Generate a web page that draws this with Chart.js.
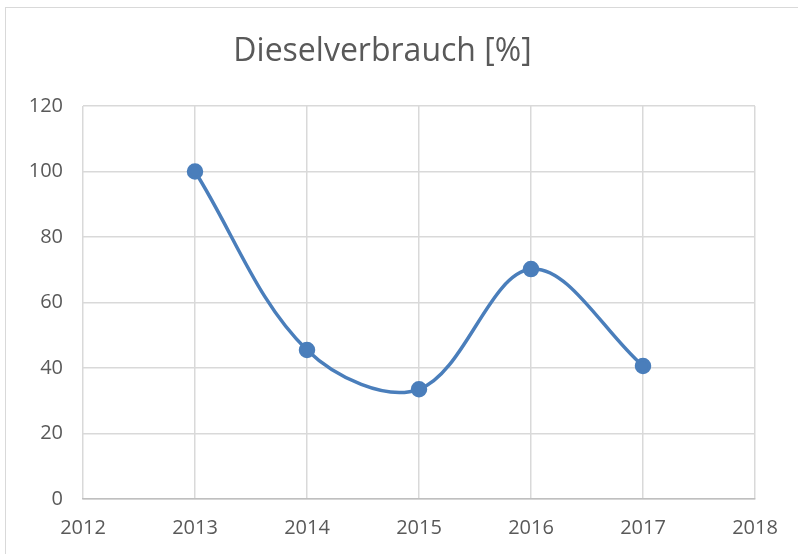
<!DOCTYPE html>
<html>
<head>
<meta charset="utf-8">
<script src="https://cdn.jsdelivr.net/npm/chart.js@4/dist/chart.umd.min.js"></script>
<style>
  html, body { margin: 0; padding: 0; background: #fff; }
  #frame { position: absolute; left: 5px; top: 7px; width: 800px; height: 560px; border: 1px solid #d9d9d9; }
  #wrap { position: absolute; left: 0; top: 0; width: 798px; height: 554px; }
</style>
</head>
<body>
<div id="frame"></div>
<div id="wrap"><canvas id="chart1"></canvas></div>
<script>
const title = 'Dieselverbrauch [%]'
const years = [2013, 2014, 2015, 2016, 2017]
const diesel = [100, 45.5, 33.5, 70.2, 40.6]
const xTicks = [2012, 2013, 2014, 2015, 2016, 2017, 2018]
const yTicks = [0, 20, 40, 60, 80, 100, 120]

const textColor = '#595959'
const gridColor = '#d9d9d9'
const lineColor = '#4a7ebb'

const points = years.map((y, i) => ({x: y, y: diesel[i]}))

var ctx = document.getElementById('chart1').getContext('2d');
new Chart(ctx, {
    type: 'line',
    data: {
        datasets: [{
            label: title,
            data: points,
            borderColor: lineColor,
            backgroundColor: lineColor,
            borderWidth: 3.5,
            pointRadius: 6.5,
            pointHoverRadius: 6.5,
            tension: 0.35,
            fill: false
        }]
    },
    options: {
        responsive: true,
        maintainAspectRatio: false,
        animation: false,
        layout: {padding: {left: 10, right: 43, top: 33, bottom: 10}},
        plugins: {
            legend: {display: false},
            tooltip: {enabled: false},
            title: {
                display: true,
                text: title,
                color: textColor,
                font: {family: 'Open Sans', size: 32, weight: 'normal'},
                padding: {top: 0, bottom: 34.6}
            }
        },
        scales: {
            x: {
                type: 'linear',
                min: xTicks[0],
                max: xTicks[xTicks.length - 1],
                afterBuildTicks: (axis) => { axis.ticks = xTicks.map(v => ({value: v})) },
                afterFit: (axis) => { axis.height = 45 },
                ticks: {
                    color: textColor,
                    font: {family: 'Open Sans', size: 20},
                    padding: 17,
                    callback: (v) => String(v)
                },
                grid: {color: gridColor, lineWidth: 1.5, drawTicks: false, tickLength: 0},
                border: {color: '#bfbfbf', width: 1.5}
            },
            y: {
                min: yTicks[0],
                max: yTicks[yTicks.length - 1],
                afterBuildTicks: (axis) => { axis.ticks = yTicks.map(v => ({value: v})) },
                afterFit: (axis) => { axis.width = 73 },
                ticks: {
                    color: textColor,
                    font: {family: 'Open Sans', size: 20},
                    padding: 20
                },
                grid: {color: gridColor, lineWidth: 1.5, drawTicks: false, tickLength: 0},
                border: {display: false}
            }
        }
    }
})
</script>
</body>
</html>
